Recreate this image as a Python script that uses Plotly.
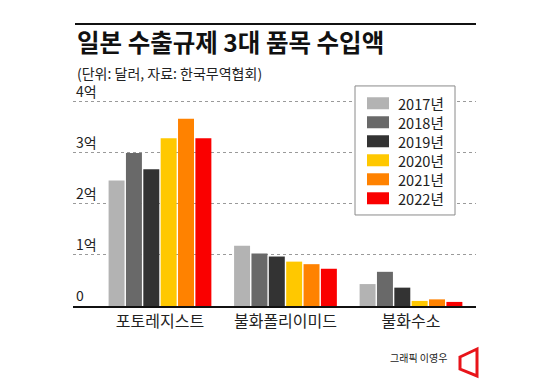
import plotly.graph_objects as go

categories = ["포토레지스트", "불화폴리이미드", "불화수소"]
years = ["2017년", "2018년", "2019년", "2020년", "2021년", "2022년"]
v2017 = [2.46, 1.18, 0.43]
v2018 = [3.00, 1.03, 0.67]
v2019 = [2.68, 0.97, 0.36]
v2020 = [3.29, 0.87, 0.10]
v2021 = [3.67, 0.82, 0.13]
v2022 = [3.29, 0.73, 0.08]
series = [v2017, v2018, v2019, v2020, v2021, v2022]
colors = ["#b3b3b3", "#696969", "#333333", "#ffc800", "#ff8200", "#fa0000"]
ytick_vals = [0, 1, 2, 3, 4]
ytick_text = ["0", "1억", "2억", "3억", "4억"]

W, H = 550, 379
L, R = 73, 476      # plot area x pixels
YTOP = 4.45
UNIT = 51.0         # pixels per 1억
B = 306
T = B - UNIT * YTOP
FONT = "Noto Sans CJK KR"


def px(x):
    return (x - L) / (R - L)


def py(y):
    return (B - y) / (B - T)


fig = go.Figure()
for name, vals, col in zip(years, series, colors):
    fig.add_trace(go.Bar(x=categories, y=vals, name=name, marker=dict(color=col, line=dict(width=0)),
                         showlegend=False))

shapes = []
annotations = []

# top rule
shapes.append(dict(type="line", xref="paper", yref="paper", x0=px(75), x1=px(476), y0=py(24), y1=py(24),
                   line=dict(color="#111111", width=2)))
# title
annotations.append(dict(text="<b>일본 수출규제 3대 품목 수입액</b>", xref="paper", yref="paper",
                        x=px(75), y=py(42), xanchor="left", yanchor="middle", showarrow=False,
                        font=dict(family=FONT, size=24.5, color="#111111")))
annotations.append(dict(text="(단위: 달러, 자료: 한국무역협회)", xref="paper", yref="paper",
                        x=px(75), y=py(73), xanchor="left", yanchor="middle", showarrow=False,
                        font=dict(family=FONT, size=14, color="#222222")))

# legend box
shapes.append(dict(type="rect", xref="paper", yref="paper", x0=px(355), x1=px(455), y0=py(86), y1=py(215),
                   fillcolor="white", line=dict(color="#8a8a8a", width=1), layer="above"))
row_y = [103.3, 122.3, 141.3, 160.3, 179.3, 198.3]
for col, yc in zip(colors, row_y):
    shapes.append(dict(type="rect", xref="paper", yref="paper", x0=px(367), x1=px(389),
                       y0=py(yc - 6), y1=py(yc + 6), fillcolor=col, line=dict(width=0), layer="above"))
annotations.append(dict(text="<br>".join(years), xref="paper", yref="paper", x=px(396),
                        y=py((row_y[0] + row_y[-1]) / 2), xanchor="left", yanchor="middle", align="left",
                        showarrow=False, font=dict(family=FONT, size=14.6, color="#222222")))

# credit + logo
annotations.append(dict(text="그래픽 이영우", xref="paper", yref="paper", x=px(449), y=py(357),
                        xanchor="right", yanchor="middle", showarrow=False,
                        font=dict(family=FONT, size=10, color="#222222")))
pts = [(460, 357), (477, 349), (477, 376), (460, 369)]
path = "M " + " L ".join(f"{px(a):.4f},{py(b):.4f}" for a, b in pts) + " Z"
shapes.append(dict(type="path", xref="paper", yref="paper", path=path,
                   line=dict(color="#e8141a", width=3), fillcolor="rgba(0,0,0,0)"))

fig.update_layout(
    width=W, height=H,
    margin=dict(l=L, r=W - R, t=T, b=H - B, pad=0),
    paper_bgcolor="white", plot_bgcolor="white",
    barmode="group", bargap=0.17, bargroupgap=0.08,
    shapes=shapes, annotations=annotations,
    font=dict(family=FONT, color="#222222"),
)
fig.update_xaxes(
    type="category", range=[-0.693, 2.518], showline=True, linecolor="#111111", linewidth=2,
    showgrid=False, ticks="", tickfont=dict(family=FONT, size=16, color="#222222"), fixedrange=True,
)
fig.update_yaxes(
    range=[0, YTOP], tickvals=ytick_vals, ticktext=ytick_text, ticklabelposition="inside top",
    showgrid=True, gridcolor="#9a9a9a", griddash="dot", gridwidth=1, zeroline=False, showline=False,
    tickfont=dict(family=FONT, size=14, color="#222222"), fixedrange=True,
)

fig.write_html("out.html", config={"displayModeBar": False},
               post_script="document.body.style.margin='0px';document.body.style.padding='0px';")
